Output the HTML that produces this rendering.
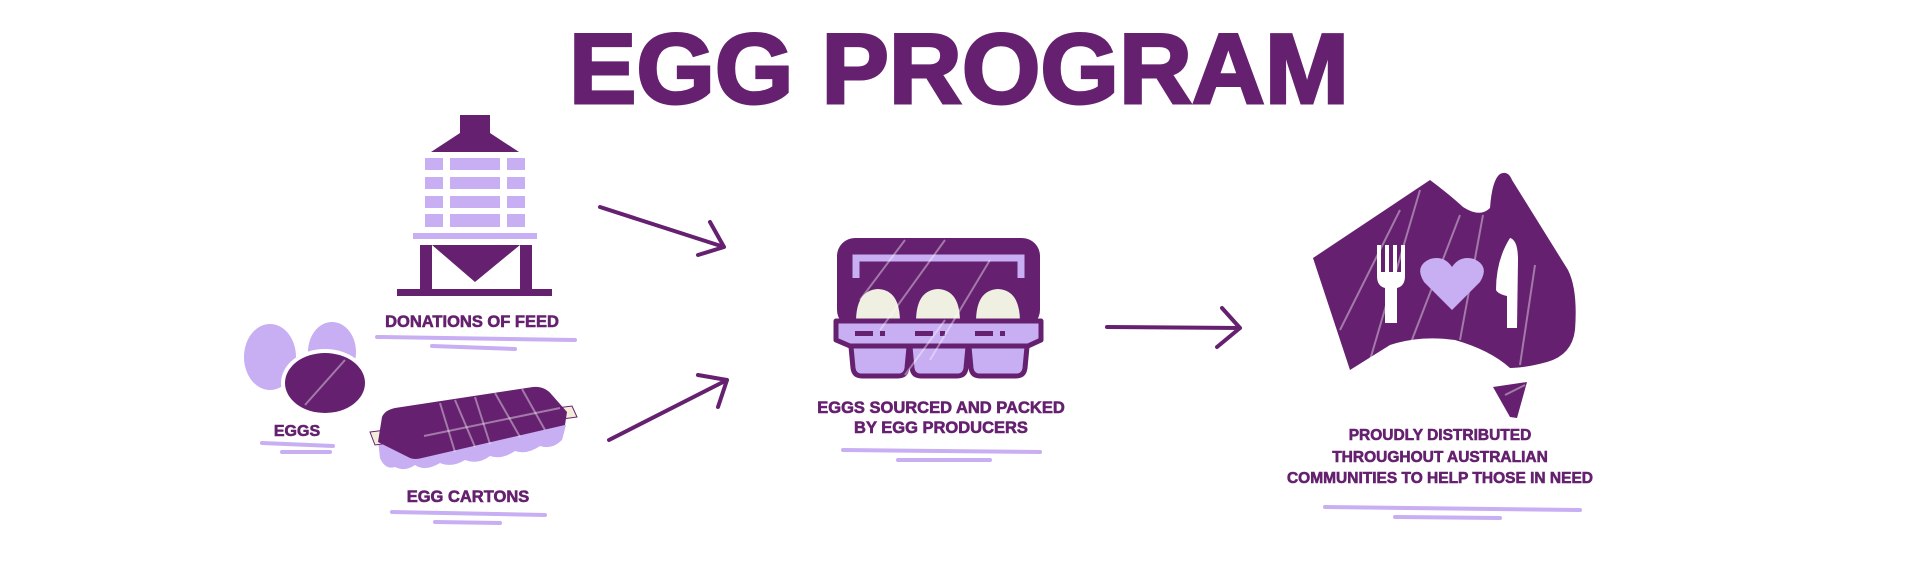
<!DOCTYPE html>
<html><head><meta charset="utf-8"><style>
html,body{margin:0;padding:0;background:#fff;}
svg{display:block;}
text{font-family:"Liberation Sans",sans-serif;font-weight:bold;fill:#65216f;}
</style></head><body>
<svg width="1920" height="576" viewBox="0 0 1920 576" xmlns="http://www.w3.org/2000/svg">
<defs>
<style>.d{fill:#65216f}.l{fill:#c8aef2}.u{stroke:#c8aef2;stroke-width:4;stroke-linecap:round;fill:none}.a{stroke:#65216f;stroke-width:4;fill:none;stroke-linecap:round;stroke-linejoin:round}.g{stroke:#ffffff;stroke-opacity:.4;stroke-width:2;fill:none}</style>
</defs>
<!-- Title -->
<text x="569" y="103" font-size="99" textLength="780" lengthAdjust="spacingAndGlyphs" stroke="#65216f" stroke-width="3">EGG PROGRAM</text>

<!-- Silo -->
<rect class="d" x="460" y="115" width="30" height="20"/>
<polygon class="d" points="431,152 519,152 490,133 460,133"/>
<g class="l">
<rect x="425" y="158" width="18" height="12"/><rect x="450" y="158" width="50" height="12"/><rect x="507" y="158" width="18" height="12"/>
<rect x="425" y="177" width="18" height="12"/><rect x="450" y="177" width="50" height="12"/><rect x="507" y="177" width="18" height="12"/>
<rect x="425" y="196" width="18" height="12"/><rect x="450" y="196" width="50" height="12"/><rect x="507" y="196" width="18" height="12"/>
<rect x="425" y="214" width="18" height="13"/><rect x="450" y="214" width="50" height="13"/><rect x="507" y="214" width="18" height="13"/>
<rect x="413" y="233" width="124" height="6"/>
</g>
<rect class="d" x="420" y="245" width="12" height="48"/>
<rect class="d" x="520" y="245" width="12" height="48"/>
<polygon class="d" points="432,245 520,245 475,282"/>
<rect class="d" x="397" y="289" width="155" height="7"/>
<text x="472" y="327" font-size="16.5" text-anchor="middle" stroke="#65216f" stroke-width=".6">DONATIONS OF FEED</text>
<path class="u" d="M377 337 L575 340"/><path class="u" d="M432 346 L515 349"/>

<!-- Eggs -->
<ellipse class="l" cx="270" cy="357" rx="26" ry="33"/>
<ellipse class="l" cx="332" cy="352" rx="24" ry="30"/>
<ellipse cx="325" cy="383" rx="44" ry="34" fill="#fff"/>
<ellipse class="d" cx="325" cy="383" rx="40" ry="30"/>
<path class="g" d="M305 405 L345 360"/>
<text x="297" y="436" font-size="16" text-anchor="middle" stroke="#65216f" stroke-width=".6">EGGS</text>
<path class="u" d="M262 443 L333 446"/><path class="u" d="M282 452 L330 452"/>

<!-- Egg cartons -->
<path class="l" d="M378 440 L380 458 Q385 470 395 467 Q405 472 415 465 Q425 472 440 463 Q452 468 465 460 Q478 465 490 456 Q502 460 515 451 Q527 455 540 446 Q552 450 562 440 L566 425 Z"/>
<polygon points="370,432 572,406 577,417 375,445" fill="#f3ecd8" stroke="#65216f" stroke-width="1"/>
<path class="d" d="M382 417 Q385 410 395 408 L533 387 Q545 386 552 395 L567 412 L565 425 L422 458 Q415 460 410 458 L378 442 Z"/>
<path class="g" d="M424 436 L560 408"/><path class="g" d="M440 403 L455 452"/><path class="g" d="M455 400 L475 447"/><path class="g" d="M475 397 L490 444"/><path class="g" d="M495 393 L520 437"/><path class="g" d="M522 389 L545 430"/>
<text x="468" y="502" font-size="16.5" text-anchor="middle" stroke="#65216f" stroke-width=".6">EGG CARTONS</text>
<path class="u" d="M392 512 L545 515"/><path class="u" d="M435 522 L500 523"/>

<!-- Arrows -->
<path class="a" d="M600 207 L724 247 M710 222 L724 247 L698 255"/>
<path class="a" d="M609 440 L727 380 M698 375 L727 380 L718 407"/>
<path class="a" d="M1107 327 L1240 328 M1222 308 L1240 328 L1217 347"/>

<!-- Center carton -->
<rect class="d" x="837" y="238" width="203" height="90" rx="18"/>
<path d="M856 278 L856 258 L1021 258 L1021 278" stroke="#c8aef2" stroke-width="7" fill="none"/>
<path fill="#efefe2" d="M856 322 Q856 290 878 289 Q900 290 900 322 Z M916 322 Q916 290 938 289 Q960 290 960 322 Z M976 322 Q976 290 998 289 Q1020 290 1020 322 Z"/>
<g fill="#c8aef2" stroke="#65216f" stroke-width="5" stroke-linejoin="round">
<path d="M850 336 L853 368 Q854 376 862 376 L898 376 Q906 376 907 368 L910 336 Z"/>
<path d="M909 336 L912 368 Q913 376 921 376 L957 376 Q965 376 966 368 L969 336 Z"/>
<path d="M968 336 L971 368 Q972 376 980 376 L1016 376 Q1024 376 1025 368 L1028 336 Z"/>
<path d="M836 321 L1041 321 L1041 340 L1028 346 L850 346 L836 340 Z"/>
</g>
<g class="d"><rect x="855" y="331" width="18" height="5"/><rect x="880" y="331" width="5" height="5"/><rect x="915" y="331" width="18" height="5"/><rect x="940" y="331" width="5" height="5"/><rect x="975" y="331" width="18" height="5"/><rect x="1000" y="331" width="5" height="5"/></g>
<path class="g" d="M860 300 L905 240 M880 330 L945 240 M930 360 L990 260 M905 375 L945 320"/>
<text x="941" y="413" font-size="16.5" text-anchor="middle" stroke="#65216f" stroke-width=".6">EGGS SOURCED AND PACKED</text>
<text x="941" y="433" font-size="16.5" text-anchor="middle" stroke="#65216f" stroke-width=".6">BY EGG PRODUCERS</text>
<path class="u" d="M843 450 L1040 452"/><path class="u" d="M898 460 L990 460"/>

<!-- Australia -->
<path class="d" d="M1313 258 L1430 180 Q1450 195 1463 207 Q1480 218 1490 208 Q1492 180 1500 174 Q1508 170 1512 180 L1568 270 Q1578 290 1575 330 Q1572 355 1547 362 Q1525 368 1510 368 Q1490 350 1455 340 Q1420 335 1390 345 L1350 370 Z"/>
<polygon class="d" points="1493,387 1527,382 1517,418 1510,417"/>
<path class="g" d="M1340 330 L1400 210 M1370 360 L1420 190 M1410 345 L1460 215 M1460 340 L1483 215 M1520 365 L1535 265 M1505 395 L1525 385"/>
<path fill="#fff" d="M1377 245 L1381 245 L1381 272 L1385 272 L1385 245 L1389 245 L1389 272 L1393 272 L1393 245 L1397 245 L1397 272 L1401 272 L1401 245 L1405 245 L1405 276 Q1405 286 1397 288 L1397 323 L1385 323 L1385 288 Q1377 286 1377 276 Z"/>
<path class="l" d="M1452 310 L1424 282 Q1414 266 1430 259 Q1444 255 1452 267 Q1460 255 1474 259 Q1490 266 1480 282 Z"/>
<path fill="#fff" d="M1510 238 Q1518 240 1518 260 L1517 328 L1507 328 L1507 296 Q1498 294 1496 290 Q1496 260 1510 238 Z"/>
<text x="1440" y="440" font-size="15.5" text-anchor="middle" stroke="#65216f" stroke-width=".6">PROUDLY DISTRIBUTED</text>
<text x="1440" y="462" font-size="15.5" text-anchor="middle" stroke="#65216f" stroke-width=".6">THROUGHOUT AUSTRALIAN</text>
<text x="1440" y="483" font-size="15.5" text-anchor="middle" stroke="#65216f" stroke-width=".6">COMMUNITIES TO HELP THOSE IN NEED</text>
<path class="u" d="M1325 507 L1580 510"/><path class="u" d="M1395 517 L1500 518"/>
</svg>
</body></html>
